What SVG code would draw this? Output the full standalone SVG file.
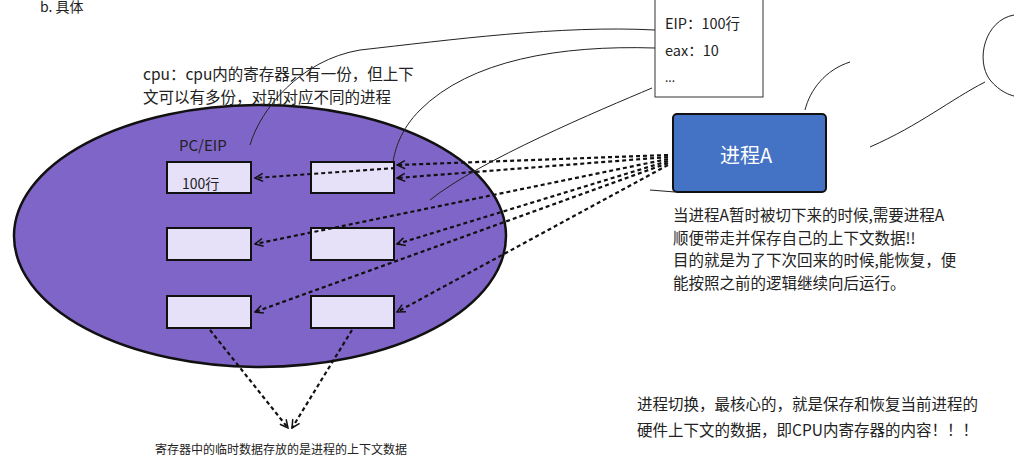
<svg xmlns="http://www.w3.org/2000/svg" width="1014" height="463" viewBox="0 0 1014 463">
<style>
text{font-family:"Noto Sans CJK SC","Liberation Sans",sans-serif;fill:#222}
.reg{fill:#e6e0f8;stroke:#111;stroke-width:2}
.dot{fill:none;stroke:#111;stroke-width:2.2;stroke-dasharray:4 3}
.hand{fill:none;stroke:#222;stroke-width:1}
</style>
<defs><marker id="ah" markerWidth="10" markerHeight="10" refX="9" refY="5" orient="auto" markerUnits="userSpaceOnUse"><path d="M1,1 L9,5 L1,9" fill="none" stroke="#111" stroke-width="1.5"/></marker></defs>
<rect width="1014" height="463" fill="#fff"/>
<text x="40" y="12" font-size="14">b. 具体</text>
<g id="cpu">
<ellipse cx="260" cy="236" rx="246" ry="131" fill="#8065c8" stroke="#111" stroke-width="2.5"/>
<text x="179" y="151" font-size="15">PC/EIP</text>
</g>
<g id="r1"><rect class="reg" x="167" y="162" width="84" height="31"/><text x="182" y="189" font-size="14">100行</text></g>
<g id="r2"><rect class="reg" x="311" y="162" width="83" height="31"/></g>
<g id="r3"><rect class="reg" x="167" y="228" width="84" height="32"/></g>
<g id="r4"><rect class="reg" x="311" y="228" width="83" height="32"/></g>
<g id="r5"><rect class="reg" x="167" y="296" width="84" height="32"/></g>
<g id="r6"><rect class="reg" x="311" y="296" width="83" height="32"/></g>
<g id="note1" font-size="15.5"><text x="143" y="80">cpu：cpu内的寄存器只有一份，但上下</text><text x="143" y="103">文可以有多份，对别对应不同的进程</text></g>
<g id="ctx"><rect x="655" y="-2" width="108" height="99" fill="#fff" stroke="#333"/><text x="665" y="29" font-size="14.5">EIP：100行</text><text x="665" y="56" font-size="14.5">eax：10</text><text x="665" y="82" font-size="12">...</text></g>
<g id="procA"><rect x="673" y="114" width="153" height="78" rx="4" fill="#4472c4" stroke="#111" stroke-width="2"/><text x="720" y="163" font-size="20" style="fill:#fff">进程A</text></g>
<g id="note2" font-size="15.5"><text x="673" y="221">当进程A暂时被切下来的时候,需要进程A</text><text x="673" y="244">顺便带走并保存自己的上下文数据!!</text><text x="673" y="266">目的就是为了下次回来的时候,能恢复，便</text><text x="673" y="289">能按照之前的逻辑继续向后运行。</text></g>
<g id="note3" font-size="15.5"><text x="637" y="410">进程切换，最核心的，就是保存和恢复当前进程的</text><text x="637" y="436">硬件上下文的数据，即CPU内寄存器的内容！！！</text></g>
<g id="note4"><text x="155" y="454" font-size="12">寄存器中的临时数据存放的是进程的上下文数据</text></g>
<g id="connectors">
<path class="dot" d="M668,155 L397,165" marker-end="url(#ah)"/>
<path class="dot" d="M668,157 L397,178" marker-end="url(#ah)"/>
<path class="dot" d="M395,168 L255,178" marker-end="url(#ah)"/>
<path class="dot" d="M668,159 L255,244" marker-end="url(#ah)"/>
<path class="dot" d="M668,161 L397,244" marker-end="url(#ah)"/>
<path class="dot" d="M668,163 L255,312" marker-end="url(#ah)"/>
<path class="dot" d="M668,165 L397,312" marker-end="url(#ah)"/>
<path class="dot" d="M210,330 L288,428" marker-end="url(#ah)"/>
<path class="dot" d="M352,330 L292,428" marker-end="url(#ah)"/>
<path class="hand" d="M655,30 C560,25 450,40 360,50 C300,60 260,110 250,145"/>
<path class="hand" d="M655,48 C560,45 470,60 420,110 C400,130 395,150 393,162"/>
<path class="hand" d="M652,88 C600,110 480,160 430,200"/>
<path class="hand" d="M805,110 C810,90 825,70 850,62"/>
<path class="hand" d="M870,147 C920,125 950,100 985,82"/>
<path class="hand" d="M1014,15 C985,20 975,60 990,80 C1000,92 1010,95 1014,96"/>
<path class="hand" d="M650,190 L675,192"/>
</g>
</svg>
